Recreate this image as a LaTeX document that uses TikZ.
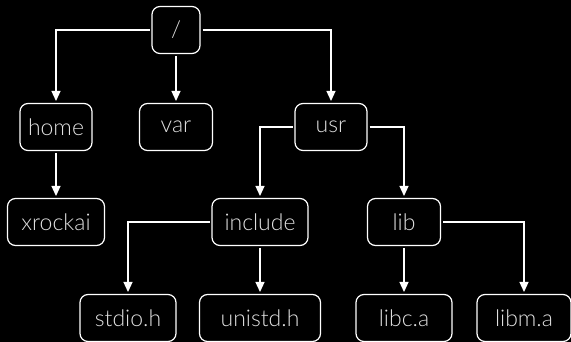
\documentclass[tikz,border=0pt]{standalone}
\usepackage{fontspec}
\setmainfont{Lato Light}
\usetikzlibrary{arrows.meta}
\begin{document}
\begin{tikzpicture}[x=1pt,y=-1pt,
  box/.style={draw=white, line width=1.2pt, rounded corners=8pt, text=white!88!black,
    minimum height=47pt, inner sep=0pt, font=\fontsize{23}{27}\selectfont, outer sep=2.5pt},
  link/.style={draw=white, line width=1.2pt, -{Triangle[width=9pt,length=10pt]}},
]
\fill[black] (0,0) rectangle (571,342);
\useasboundingbox (0,0) rectangle (571,342);
\node[box, minimum width=48pt] (root) at (176,30) {/};
\node[box, minimum width=72pt] (home) at (56,127) {home};
\node[box, minimum width=73pt] (var) at (176,127) {var};
\node[box, minimum width=72pt] (usr) at (331,127) {usr};
\node[box, minimum width=97pt] (xrockai) at (56,222) {xrockai};
\node[box, minimum width=96pt] (include) at (260,222) {include};
\node[box, minimum width=73pt] (lib) at (404,222) {lib};
\node[box, minimum width=96pt] (stdio) at (128,318) {stdio.h};
\node[box, minimum width=121pt] (unistd) at (260,318) {unistd.h};
\node[box, minimum width=96pt] (libc) at (404,318) {libc.a};
\node[box, minimum width=94pt] (libm) at (524,318) {libm.a};
\draw[link] (root.west) -| (home.north);
\draw[link] (root.south) -- (var.north);
\draw[link] (root.east) -| (usr.north);
\draw[link] (home.south) -- (xrockai.north);
\draw[link] (usr.west) -| (include.north);
\draw[link] (usr.east) -| (lib.north);
\draw[link] (include.west) -| (stdio.north);
\draw[link] (include.south) -- (unistd.north);
\draw[link] (lib.south) -- (libc.north);
\draw[link] (lib.east) -| (libm.north);
\end{tikzpicture}
\end{document}
